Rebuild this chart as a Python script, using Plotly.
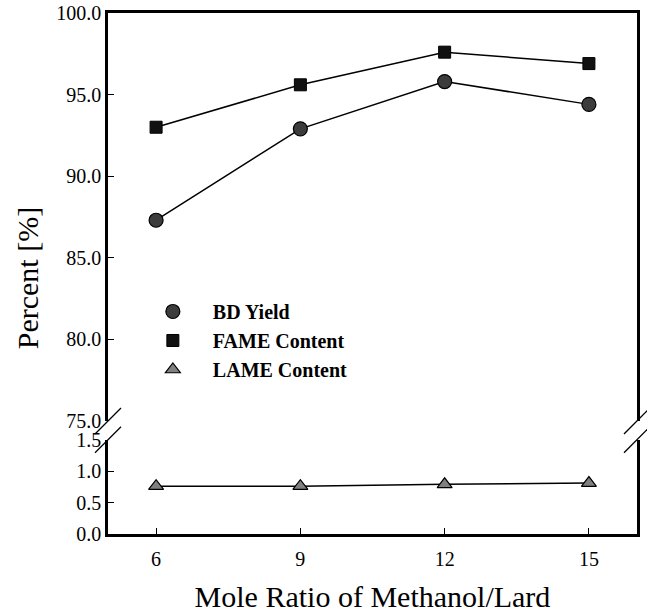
import plotly.graph_objects as go

mole_ratio = [6, 9, 12, 15]
bd_yield = [87.3, 92.9, 95.8, 94.4]
fame_content = [93.0, 95.6, 97.6, 96.9]
lame_content = [0.76, 0.76, 0.79, 0.81]

x_ticks = [6, 9, 12, 15]
upper_ticks = [75, 80, 85, 90, 95, 100]
lower_ticks = [0.0, 0.5, 1.0, 1.5]

FONT = "Liberation Serif"
LW = 2.6

fig = go.Figure()

line = dict(color="black", width=1.5)
series = [
    ("BD Yield", bd_yield, "x2", "y2", dict(symbol="circle", size=14, color="#3c3c3c", line=dict(color="black", width=1.2))),
    ("FAME Content", fame_content, "x2", "y2", dict(symbol="square", size=12, color="#111111", line=dict(color="black", width=1))),
    ("LAME Content", lame_content, "x", "y", dict(symbol="triangle-up", size=13, color="#808080", line=dict(color="black", width=1.2))),
]
for i, (name, vals, xa, ya, mk) in enumerate(series):
    fig.add_trace(go.Scatter(x=mole_ratio, y=vals, mode="lines", line=line,
                             xaxis=xa, yaxis=ya, showlegend=False, hoverinfo="skip"))
for i, (name, vals, xa, ya, mk) in enumerate(series):
    fig.add_trace(go.Scatter(x=mole_ratio, y=vals, name=name, mode="markers",
                             xaxis=xa, yaxis=ya, marker=mk, legendgroup=f"g{i}"))

tickfont = dict(family=FONT, size=20, color="black")
low_top = 0.181
up_bot = 0.217

fig.update_layout(
    width=647, height=613,
    margin=dict(l=108, r=10, t=13, b=79),
    paper_bgcolor="white", plot_bgcolor="white",
    font=dict(family=FONT, color="black"),
    showlegend=True,
    legend=dict(x=0.047, y=0.4645, xanchor="left", yanchor="top",
                font=dict(family=FONT, size=20, color="black", weight="bold"),
                itemwidth=70, tracegroupgap=0, bgcolor="rgba(0,0,0,0)"),
    xaxis=dict(range=[5, 16], tickvals=x_ticks, ticks="inside", ticklen=6, tickwidth=1,
               tickcolor="black", showline=True, linecolor="black", linewidth=LW,
               showgrid=False, zeroline=False, tickfont=tickfont, anchor="y",
               ticklabelstandoff=5, automargin=False,
               title=dict(text="Mole Ratio of Methanol/Lard", font=dict(family=FONT, size=30), standoff=22)),
    xaxis2=dict(range=[5, 16], matches="x", anchor="y2", side="top", showline=True,
                linecolor="black", linewidth=LW, showticklabels=False, ticks="",
                showgrid=False, zeroline=False, automargin=False),
    yaxis=dict(domain=[0, low_top], range=[0, 1.5], tickvals=lower_ticks,
               ticktext=["0.0", "0.5", "1.0", "1.5"], ticks="inside", ticklen=6, tickwidth=1,
               tickcolor="black", showline=True, mirror=True, linecolor="black", linewidth=LW,
               showgrid=False, zeroline=False, tickfont=tickfont, anchor="x", automargin=False),
    yaxis2=dict(domain=[up_bot, 1], range=[75, 100], tickvals=upper_ticks,
                ticktext=["75.0", "80.0", "85.0", "90.0", "95.0", "100.0"],
                ticks="inside", ticklen=6, tickwidth=1, tickcolor="black",
                showline=True, mirror=True, linecolor="black", linewidth=LW,
                showgrid=False, zeroline=False, tickfont=tickfont, anchor="x2", automargin=False),
    annotations=[dict(text="Percent [%]", textangle=-90, xref="paper", yref="paper",
                      x=-0.152, y=0.49, xanchor="center", yanchor="middle", showarrow=False,
                      font=dict(family=FONT, size=30, color="black"))],
)

# break marks on both vertical axes
for xp in (0, 1):
    for yp in (up_bot, low_top):
        fig.add_shape(type="line", xref="paper", yref="paper",
                      xsizemode="pixel", ysizemode="pixel",
                      xanchor=xp, yanchor=yp, x0=-13, x1=13, y0=-13, y1=13,
                      line=dict(color="black", width=1.3))

fig.write_html("out.html")
